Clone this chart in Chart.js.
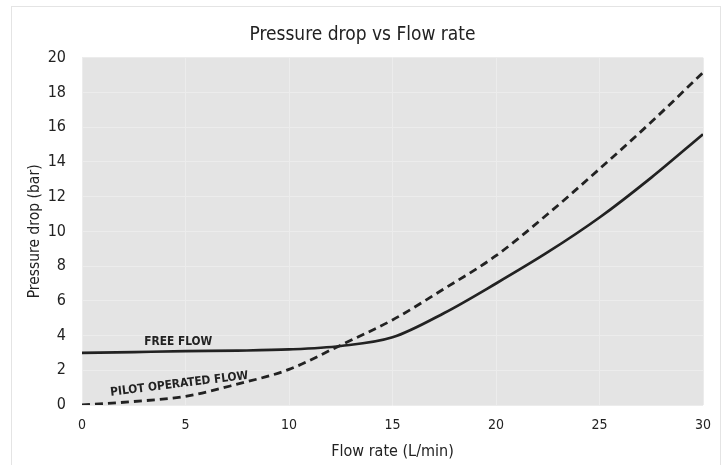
<!DOCTYPE html>
<html>
<head>
<meta charset="utf-8">
<script src="https://cdn.jsdelivr.net/npm/chart.js@4/dist/chart.umd.min.js"></script>
<style>
  body { margin: 0; background: #fff; }
  #frame { position: absolute; left: 11px; top: 6px; width: 708px; height: 470px; border: 1px solid #e4e4e4; }
  #wrap { position: absolute; left: 0; top: 0; width: 725px; height: 465px; }
</style>
</head>
<body>
<div id="frame"></div>
<div id="wrap"><canvas id="grafica" width="725" height="465"></canvas></div>
<script>
const FONT = "'Liberation Sans Narrow', 'Arial Narrow', 'DejaVu Sans Condensed', sans-serif";

// flow rate (L/min)
const flowRates = [0, 2.5, 5, 7.5, 10, 12.5, 15, 17.5, 20, 22.5, 25, 27.5, 30];
// pressure drop (bar)
const freeFlow = [3.0, 3.05, 3.1, 3.13, 3.2, 3.4, 3.9, 5.3, 7.0, 8.8, 10.8, 13.1, 15.6];
const pilotFlow = [0, 0.2, 0.5, 1.2, 2.05, 3.45, 4.9, 6.7, 8.6, 11.0, 13.6, 16.3, 19.15];
const xTicks = [0, 5, 10, 15, 20, 25, 30];
const yTicks = [0, 2, 4, 6, 8, 10, 12, 14, 16, 18, 20];

// curve labels: [text, x, y, angle]
const curveLabels = [
  ['FREE FLOW', 4.65, 3.64, 0],
  ['PILOT OPERATED FLOW', 4.7, 1.2, -7],
];

const toPoints = (ys) => ys.map((y, i) => ({ x: flowRates[i], y }));

const plotBg = {
  id: 'plotBg',
  beforeDraw(chart) {
    const { ctx, chartArea: a } = chart;
    ctx.save();
    ctx.fillStyle = '#e4e4e4';
    ctx.fillRect(a.left, a.top, a.right - a.left, a.bottom - a.top);
    ctx.restore();
  },
};

const labelsPlugin = {
  id: 'curveLabels',
  afterDatasetsDraw(chart) {
    const { ctx, scales } = chart;
    ctx.save();
    ctx.fillStyle = '#222';
    ctx.font = `bold 11.8px ${FONT}`;
    ctx.textAlign = 'center';
    ctx.textBaseline = 'middle';
    curveLabels.forEach(([txt, x, y, ang]) => {
      ctx.save();
      ctx.translate(scales.x.getPixelForValue(x), scales.y.getPixelForValue(y));
      ctx.rotate((ang * Math.PI) / 180);
      ctx.fillText(txt, 0, 0);
      ctx.restore();
    });
    ctx.restore();
  },
};

new Chart(document.getElementById('grafica'), {
  type: 'line',
  data: {
    datasets: [
      {
        label: 'FREE FLOW',
        data: toPoints(freeFlow),
        borderColor: '#222',
        borderWidth: 2.7,
        pointRadius: 0,
        cubicInterpolationMode: 'monotone',
      },
      {
        label: 'PILOT OPERATED FLOW',
        data: toPoints(pilotFlow),
        borderColor: '#222',
        borderWidth: 2.8,
        borderDash: [8, 5],
        pointRadius: 0,
        cubicInterpolationMode: 'monotone',
      },
    ],
  },
  options: {
    responsive: false,
    animation: false,
    layout: { padding: { left: 22, right: 22, top: 0, bottom: 0 } },
    plugins: {
      legend: { display: false },
      tooltip: { enabled: false },
      title: {
        display: true,
        text: 'Pressure drop vs Flow rate',
        color: '#222',
        font: { family: FONT, size: 19, weight: 'normal' },
        padding: { top: 24, bottom: 11 },
      },
    },
    scales: {
      x: {
        type: 'linear',
        min: 0,
        max: 30,
        afterBuildTicks: (s) => { s.ticks = xTicks.map((v) => ({ value: v })); },
        afterFit: (s) => { s.height = 60; },
        grid: { color: '#ececec', lineWidth: 1, drawTicks: false },
        border: { display: false },
        ticks: { color: '#222', padding: 12, font: { family: FONT, size: 14 } },
        title: {
          display: true,
          text: 'Flow rate (L/min)',
          color: '#222',
          font: { family: FONT, size: 16 },
          padding: { top: 3 },
        },
      },
      y: {
        min: 0,
        max: 20,
        afterBuildTicks: (s) => { s.ticks = yTicks.map((v) => ({ value: v })); },
        afterFit: (s) => { s.width = 60; },
        grid: { color: '#ececec', lineWidth: 1, drawTicks: false },
        border: { display: false },
        ticks: { color: '#222', padding: 16, font: { family: FONT, size: 16 } },
        title: {
          display: true,
          text: 'Pressure drop (bar)',
          color: '#222',
          font: { family: FONT, size: 15.5 },
          padding: { bottom: 2 },
        },
      },
    },
  },
  plugins: [plotBg, labelsPlugin],
});
</script>
</body>
</html>
